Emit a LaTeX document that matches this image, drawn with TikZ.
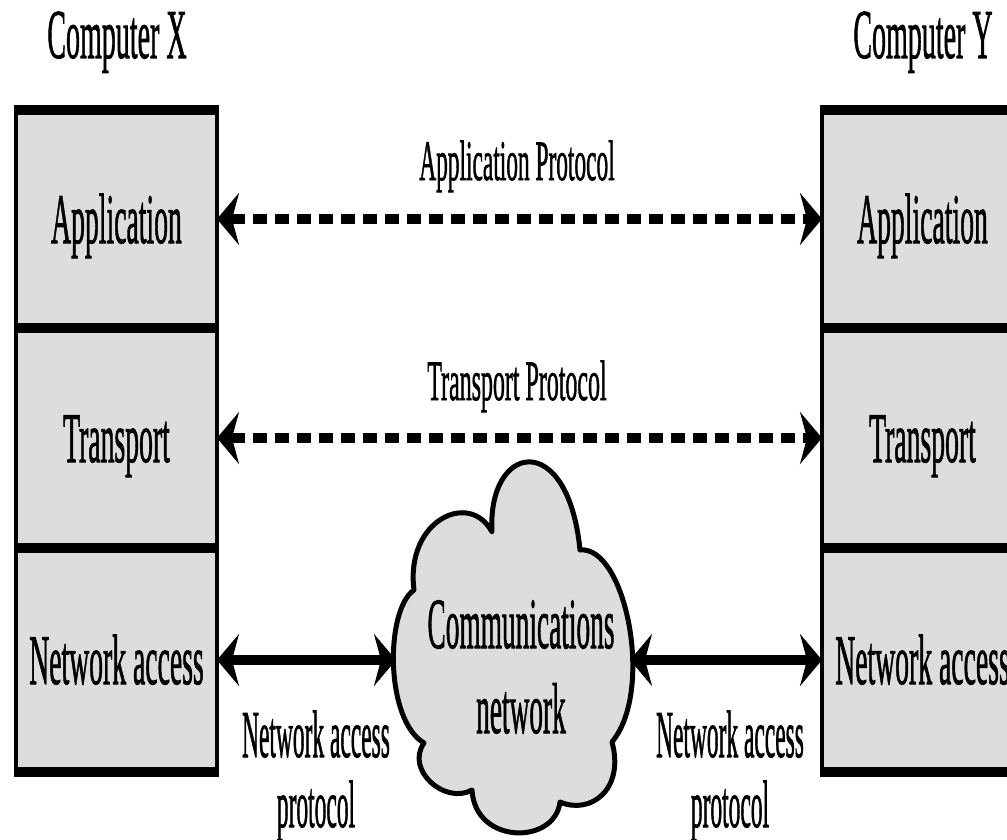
\documentclass[tikz,border=0pt]{standalone}
\usepackage{fontspec}
\setmainfont{Liberation Serif}[FakeBold=1.5]
\usetikzlibrary{arrows.meta}

\definecolor{layergray}{RGB}{221,221,222}

% condensed text: squeeze horizontally, keep the height
\newcommand{\narrowtext}[2]{\scalebox{#1}[1]{#2}}
\newcommand{\narrowlines}[3]{\scalebox{#1}[1]{\begin{tabular}[t]{@{}c@{}}#2\\#3\end{tabular}}}

\tikzset{
  headtip/.tip={Stealth[length=22pt,width=52pt,inset=7pt]},
  layer/.style={fill=layergray, minimum width=201pt, inner sep=0pt, outer sep=0pt,
                text height=52pt, text depth=4pt, font=\fontsize{71}{80}\selectfont},
  vrule/.style={line width=4.5pt},
  hrule/.style={line width=10pt},
  proto/.style={line width=10pt, dash pattern=on 14pt off 8pt, headtip-headtip},
  link/.style={line width=10pt, headtip-headtip},
  cloudshape/.style={fill=layergray, draw=black, line width=5pt, line join=round},
  title/.style={anchor=base, inner sep=0pt, font=\fontsize{70}{80}\selectfont},
  protolabel/.style={anchor=base, inner sep=0pt, font=\fontsize{57}{65}\selectfont},
  linklabel/.style={anchor=base, inner sep=0pt, font=\fontsize{67}{70}\selectfont},
  cloudlabel/.style={anchor=base, inner sep=0pt, font=\fontsize{72}{85}\selectfont}
}

\begin{document}
\begin{tikzpicture}[x=1pt, y=-1pt]
\useasboundingbox (0,0) rectangle (1007,840);
\clip (0,0) rectangle (1007,840);

% headings
\node[title] (hx) at (117,58) {\narrowtext{0.4}{Computer X}};
\node[title] (hy) at (923,58) {\narrowtext{0.4}{Computer Y}};

% protocol stack of computer X
\node[layer, minimum height=218pt, anchor=north west] (appX) at (16,110) {\narrowtext{0.39}{Application}};
\node[layer, minimum height=220pt, anchor=north west] (traX) at (16,328) {\narrowtext{0.39}{Transport}};
\node[layer, minimum height=224pt, anchor=north west] (netX) at (16,548) {\narrowtext{0.39}{Network access}};

% protocol stack of computer Y
\node[layer, minimum height=218pt, anchor=north west] (appY) at (822,110) {\narrowtext{0.39}{Application}};
\node[layer, minimum height=220pt, anchor=north west] (traY) at (822,328) {\narrowtext{0.39}{Transport}};
\node[layer, minimum height=224pt, anchor=north west] (netY) at (822,548) {\narrowtext{0.39}{Network access}};

% stack borders
\foreach \s in {X,Y}{
  \draw[vrule] ([yshift=5pt]app\s.north west) -- ([yshift=-5pt]net\s.south west);
  \draw[vrule] ([yshift=5pt]app\s.north east) -- ([yshift=-5pt]net\s.south east);
  \draw[hrule] ([xshift=-2pt]app\s.north west) -- ([xshift=2pt]app\s.north east);
  \draw[hrule] ([xshift=-2pt]app\s.south west) -- ([xshift=2pt]app\s.south east);
  \draw[hrule] ([xshift=-2pt]tra\s.south west) -- ([xshift=2pt]tra\s.south east);
  \draw[hrule] ([xshift=-2pt]net\s.south west) -- ([xshift=2pt]net\s.south east);
}

% communications network cloud
\draw[cloudshape] (492,532)
  .. controls (487,443) and (568,428) .. (580,550)
  .. controls (625,545) and (655,690) .. (612,742)
  .. controls (625,790) and (590,815) .. (560,802)
  .. controls (555,845) and (475,845) .. (472,790)
  .. controls (445,805) and (405,770) .. (424,743)
  .. controls (385,720) and (385,610) .. (414,590)
  .. controls (405,520) and (470,490) .. (492,532) -- cycle;
\coordinate (cloudW) at (396,660);
\coordinate (cloudE) at (630,660);
\node[cloudlabel] (cloud) at (521,648) {\narrowlines{0.38}{Communications}{network}};

% peer protocols
\draw[proto] (appX.east) -- (appY.west);
\draw[proto] (traX.east) -- (traY.west);
\node[protolabel] (appP) at (517,180) {\narrowtext{0.41}{Application Protocol}};
\node[protolabel] (traP) at (517,400) {\narrowtext{0.42}{Transport Protocol}};

% network access links
\draw[link] (netX.east) -- (cloudW);
\draw[link] (cloudE) -- (netY.west);
\node[linklabel] (naL) at (316,757) {\narrowlines{0.35}{Network access}{protocol}};
\node[linklabel] (naR) at (730,757) {\narrowlines{0.35}{Network access}{protocol}};
\end{tikzpicture}
\end{document}
